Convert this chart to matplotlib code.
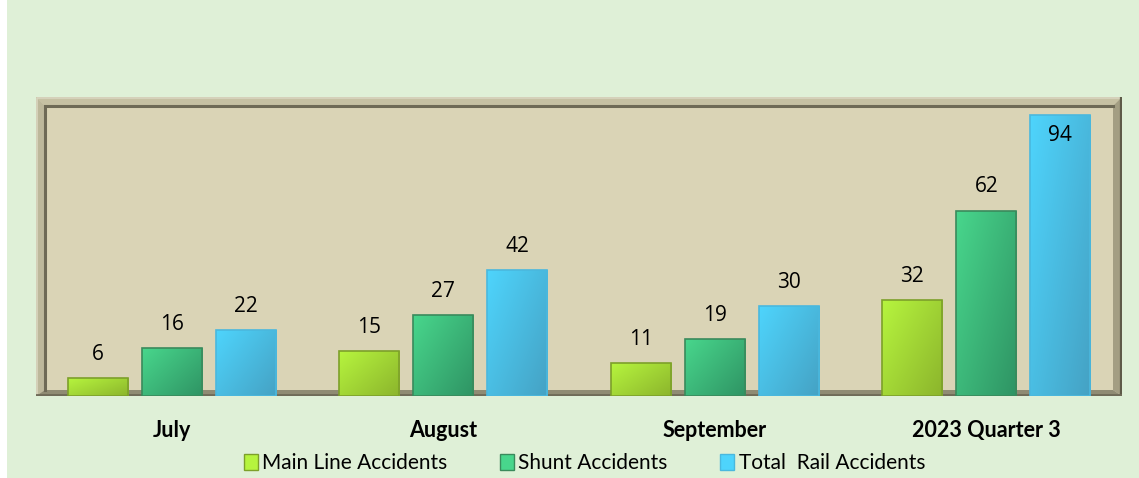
import numpy as np
import matplotlib.pyplot as plt
from matplotlib.patches import Rectangle, Polygon, Patch
from matplotlib.colors import LinearSegmentedColormap

categories = ["July", "August", "September", "2023 Quarter 3"]
series_names = ["Main Line Accidents", "Shunt Accidents", "Total  Rail Accidents"]
main_line = [6, 15, 11, 32]
shunt = [16, 27, 19, 62]
total = [22, 42, 30, 94]

# light / dark ends of each bar gradient, plus edge colour
styles = [
    ("#B6F43E", "#8CB52C", "#7DA02A"),
    ("#48D68C", "#2F9464", "#3A8A5C"),
    ("#4ED4FC", "#45A2C4", "#4AB8DE"),
]

W, H = 1139, 478
fig = plt.figure(figsize=(W / 100, H / 100), dpi=100, facecolor="white")
fig.patches.append(Rectangle((7 / W, 0), 1, 1, transform=fig.transFigure,
                             facecolor="#DFF0D7", edgecolor="none", zorder=-10))

# axes spans the outer frame of the plot area
x0, x1, ytop, ybot = 36, 1122, 97, 396
ax = fig.add_axes([x0 / W, 1 - ybot / H, (x1 - x0) / W, (ybot - ytop) / H])
ax.set_facecolor("#DAD4B6")
for s in ax.spines.values():
    s.set_visible(False)

AW, AH = x1 - x0, ybot - ytop


def px(x, y):
    # pixel offsets inside the axes (from top-left) -> axes fraction
    return (x / AW, 1 - y / AH)


def band(pts, color, z=1):
    ax.add_patch(Polygon([px(*p) for p in pts], closed=True, transform=ax.transAxes,
                         facecolor=color, edgecolor="none", zorder=z))


t, b = 9, 6
# bevelled frame: top, left, right, bottom
band([(0, 0), (AW, 0), (AW - t, t), (t, t)], "#C6C1A3")
band([(0, 0), (t, t), (t, AH - b), (0, AH)], "#BDB89B")
band([(AW, 0), (AW, AH), (AW - t, AH - b), (AW - t, t)], "#A39E83")
band([(0, AH), (t, AH - b), (AW - t, AH - b), (AW, AH)], "#8F8B73")
# inner dark edges and outer highlights
ax.plot(*zip(px(t, AH - b), px(t, t), px(AW - t, t)), color="#6E6A56", lw=2.2,
        transform=ax.transAxes, zorder=2, solid_joinstyle="miter")
ax.plot(*zip(px(0.5, AH), px(0.5, 0.5), px(AW - 0.5, 0.5)), color="#D9D5BF", lw=1.2,
        transform=ax.transAxes, zorder=2)
ax.plot(*zip(px(AW - 0.8, 0.5), px(AW - 0.8, AH)), color="#5E5A48", lw=1.6,
        transform=ax.transAxes, zorder=2)
ax.plot(*zip(px(0, AH - 1.5), px(AW, AH - 1.5)), color="#6F6B58", lw=2,
        transform=ax.transAxes, zorder=2)

x = np.arange(len(categories))
step = 0.2726
width = 0.221
gy, gx = np.mgrid[0:1:60j, 0:1:30j]
grad = 0.55 * gx + 0.45 * gy

for i, (vals, (light, dark, edge)) in enumerate(zip([main_line, shunt, total], styles)):
    cmap = LinearSegmentedColormap.from_list("g%d" % i, [light, dark])
    bars = ax.bar(x + (i - 1) * step, vals, width, color=light, edgecolor=edge,
                  linewidth=1.2, zorder=4)
    for bar, v in zip(bars, vals):
        bx, bw = bar.get_x(), bar.get_width()
        im = ax.imshow(grad, cmap=cmap, extent=(bx, bx + bw, 0, v), origin="upper",
                       aspect="auto", zorder=3.5, interpolation="bilinear")
        im.set_clip_path(bar)
        bar.set_facecolor("none")
        # label goes inside the bar when there is no room above it
        ly = v - 7 if v + 12 > 100 else v + 8
        ax.text(bx + bw / 2, ly, str(v), ha="center", va="center",
                fontsize=15, family="Open Sans", zorder=6)

ax.set_xlim(-0.5, len(categories) - 0.5)
ax.set_ylim(0, 100)
ax.set_yticks([])
ax.set_xticks(x)
ax.set_xticklabels(categories, fontsize=15.5, fontweight="bold", family="Lato")
ax.tick_params(axis="x", length=0, pad=17)

handles = [Patch(facecolor=s[0], edgecolor=s[2]) for s in styles]
fig.legend(handles, series_names, loc="center", bbox_to_anchor=(0.513, 0.031), ncol=3,
           frameon=False, prop={"family": "Lato", "size": 15}, handlelength=0.7,
           handleheight=0.8, handletextpad=0.2, columnspacing=2.5)

fig.savefig("out.png", dpi=100, facecolor=fig.get_facecolor())
